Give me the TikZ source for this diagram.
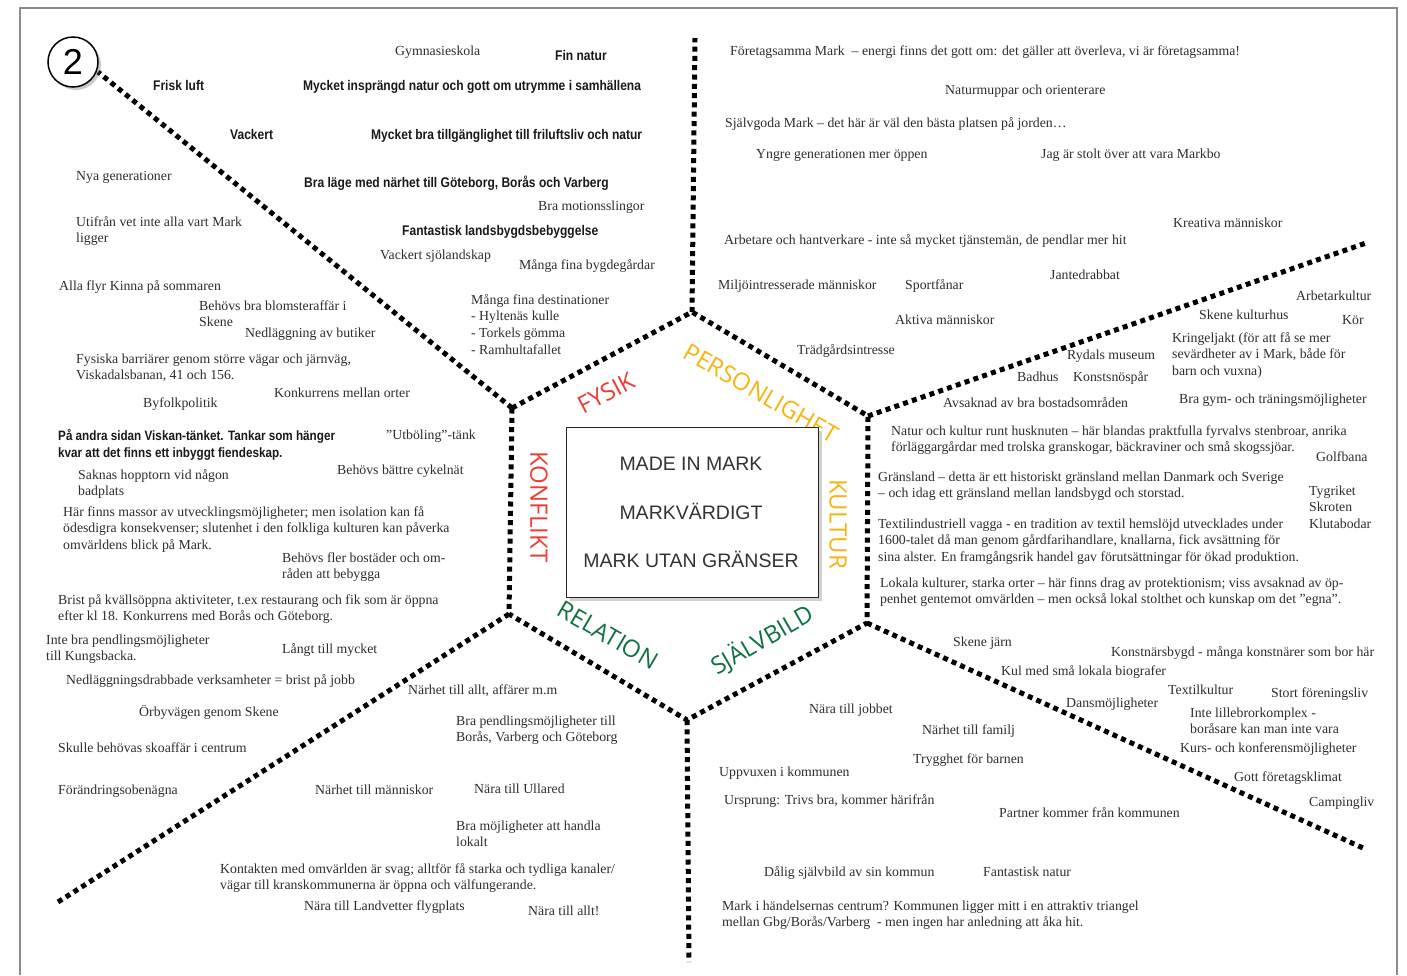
\documentclass[tikz,border=0pt]{standalone}
\usepackage{fontspec}
\setmainfont{Liberation Serif}
\newfontfamily\condbold[FakeStretch=0.86]{Liberation Sans Bold}
\newfontfamily\labelfont{Open Sans}
\newfontfamily\boxfont{Liberation Sans}
\usetikzlibrary{shadows}
\definecolor{txt}{RGB}{45,45,45}
\definecolor{boldtxt}{RGB}{25,25,25}
\definecolor{lblred}{RGB}{236,60,52}
\definecolor{lblorange}{RGB}{247,180,15}
\definecolor{lblgreen}{RGB}{14,115,64}
\definecolor{framecol}{RGB}{140,140,140}
\tikzset{
  sr/.style={anchor=base west, inner sep=0pt, align=left, text=txt, font={\fontsize{13.8}{16.8}\selectfont}},
  bc/.style={anchor=base west, inner sep=0pt, align=left, text=boldtxt, font={\condbold\fontsize{14}{17}\selectfont}},
  bcs/.style={bc, font={\condbold\fontsize{13.6}{17}\selectfont}},
  dots/.style={line width=5pt, dash pattern=on 5pt off 4.3pt, black},
  cat/.style={inner sep=0pt, font={\labelfont\fontsize{24}{24}\selectfont}},
  boxtxt/.style={inner sep=0pt, text=black!80, font={\boxfont\fontsize{19.5}{20}\selectfont}},
}
\begin{document}
\begin{tikzpicture}[x=1pt,y=-1pt]
\useasboundingbox (0,0) rectangle (1407,975);
% frame
\coordinate (fBL) at (20,975);
\coordinate (fTL) at (20,8);
\coordinate (fTR) at (1397,8);
\coordinate (fBR) at (1397,975);
\draw[framecol, line width=1.5pt] (fBL) -- (fTL) -- (fTR) -- (fBR);

% hexagon vertices
\coordinate (hT) at (692,312);
\coordinate (hUR) at (868,416);
\coordinate (hLR) at (867,623);
\coordinate (hB) at (687,720);
\coordinate (hLL) at (509,614);
\coordinate (hUL) at (512,408);
% spoke ends
\coordinate (eT) at (695,38);
\coordinate (eUL) at (98,72);
\coordinate (eUR) at (1366,243);
\coordinate (eLR) at (1363,848);
\coordinate (eLL) at (58,902);
\coordinate (eB) at (689,962);

\draw[dots] (hUL) -- (hT) -- (hUR) -- (hLR) -- (hB) -- (hLL) -- cycle;
\draw[dots] (hT) -- (eT);
\draw[dots] (hUL) -- (eUL);
\draw[dots] (hUR) -- (eUR);
\draw[dots] (hLR) -- (eLR);
\draw[dots] (hLL) -- (eLL);
\draw[dots] (hB) -- (eB);

% category labels
\node[cat, text=lblred, rotate=28] (cFysik) at (606,393) {FYSIK};
\node[cat, text=lblorange, rotate=-30] (cPers) at (761,393) {PERSONLIGHET};
\node[cat, text=lblorange, rotate=-90] (cKult) at (838,524) {KULTUR};
\node[cat, text=lblgreen, rotate=30] (cSjalv) at (762,640) {SJÄLVBILD};
\node[cat, text=lblgreen, rotate=-30] (cRel) at (608,635) {RELATION};
\node[cat, text=lblred, rotate=-90] (cKonf) at (539,507) {KONFLIKT};

% central box
\node[draw=black!85, line width=1pt, fill=white, minimum width=252pt, minimum height=170pt, inner sep=0pt,
      drop shadow={shadow xshift=4pt, shadow yshift=-4pt, opacity=0.3, fill=black!60}] (box) at (692,512) {};
\node[boxtxt] (m1) at (691,464) {MADE IN MARK};
\node[boxtxt] (m2) at (691,511) {MARKVÄRDIGT};
\node[boxtxt] (m3) at (691,559) {MARK UTAN GRÄNSER};

% circled number
\node[circle, draw=black, line width=1.5pt, minimum size=50pt, inner sep=0pt, fill=white,
      drop shadow={shadow xshift=3pt, shadow yshift=-3pt, opacity=0.35, fill=black!60},
      font={\boxfont\fontsize{36}{36}\selectfont}] (num) at (73,62) {2};

% ---------- FYSIK sector ----------
\node[sr] (a1) at (395,55) {Gymnasieskola};
\node[bc] (a2) at (555,60) {Fin natur};
\node[bc] (a3) at (153,90) {Frisk luft};
\node[bc] (a4) at (303,90) {Mycket insprängd natur och gott om utrymme i samhällena};
\node[bc] (a5) at (230,139) {Vackert};
\node[bc] (a6) at (371,139) {Mycket bra tillgänglighet till friluftsliv och natur};
\node[bc] (a7) at (304,187) {Bra läge med närhet till Göteborg, Borås och Varberg};
\node[sr] (a8) at (538,210) {Bra motionsslingor};
\node[bc] (a9) at (402,235) {Fantastisk landsbygdsbebyggelse};
\node[sr] (a10) at (380,259) {Vackert sjölandskap};
\node[sr] (a11) at (519,269) {Många fina bygdegårdar};
\node[sr] (a12) at (471,354.4) {Många fina destinationer\\- Hyltenäs kulle\\- Torkels gömma\\- Ramhultafallet};

% ---------- KONFLIKT sector ----------
\node[sr] (k1) at (76,180) {Nya generationer};
\node[sr] (k2) at (76,242.8) {Utifrån vet inte alla vart Mark\\ligger};
\node[sr] (k3) at (59,290) {Alla flyr Kinna på sommaren};
\node[sr] (k4) at (199,326.8) {Behövs bra blomsteraffär i\\Skene};
\node[sr] (k5) at (245,337) {Nedläggning av butiker};
\node[sr] (k6) at (76,379.8) {Fysiska barriärer genom större vägar och järnväg,\\Viskadalsbanan, 41 och 156.};
\node[sr] (k7) at (274,397) {Konkurrens mellan orter};
\node[sr] (k8) at (143,407) {Byfolkpolitik};
\node[bcs] (k9) at (58,457) {På andra sidan Viskan-tänket. Tankar som hänger\\kvar att det finns ett inbyggt fiendeskap.};
\node[sr] (k10) at (386,439) {"Utböling"-tänk};
\node[sr] (k11) at (337,474) {Behövs bättre cykelnät};
\node[sr] (k12) at (78,495.8) {Saknas hopptorn vid någon\\badplats};
\node[sr] (k13) at (63,549.6) {Här finns massor av utvecklingsmöjligheter; men isolation kan få\\ödesdigra konsekvenser; slutenhet i den folkliga kulturen kan påverka\\omvärldens blick på Mark.};
\node[sr] (k14) at (282,578.8) {Behövs fler bostäder och om-\\råden att bebygga};
\node[sr] (k15) at (58,620.8) {Brist på kvällsöppna aktiviteter, t.ex restaurang och fik som är öppna\\efter kl 18. Konkurrens med Borås och Göteborg.};

% ---------- RELATION sector ----------
\node[sr] (r1) at (46,660.8) {Inte bra pendlingsmöjligheter\\till Kungsbacka.};
\node[sr] (r2) at (282,653) {Långt till mycket};
\node[sr] (r3) at (66,684) {Nedläggningsdrabbade verksamheter = brist på jobb};
\node[sr] (r4) at (408,694) {Närhet till allt, affärer m.m};
\node[sr] (r5) at (139,716) {Örbyvägen genom Skene};
\node[sr] (r6) at (456,741.8) {Bra pendlingsmöjligheter till\\Borås, Varberg och Göteborg};
\node[sr] (r7) at (58,752) {Skulle behövas skoaffär i centrum};
\node[sr] (r8) at (58,794) {Förändringsobenägna};
\node[sr] (r9) at (315,794) {Närhet till människor};
\node[sr] (r10) at (474,793) {Nära till Ullared};
\node[sr] (r11) at (456,846.8) {Bra möjligheter att handla\\lokalt};
\node[sr] (r12) at (220,889.8) {Kontakten med omvärlden är svag; alltför få starka och tydliga kanaler/\\vägar till kranskommunerna är öppna och välfungerande.};
\node[sr] (r13) at (304,910) {Nära till Landvetter flygplats};
\node[sr] (r14) at (528,915) {Nära till allt!};

% ---------- PERSONLIGHET sector ----------
\node[sr] (p1) at (730,55) {Företagsamma Mark \ – energi finns det gott om: det gäller att överleva, vi är företagsamma!};
\node[sr] (p2) at (945,94) {Naturmuppar och orienterare};
\node[sr] (p3) at (725,127) {Självgoda Mark – det här är väl den bästa platsen på jorden…};
\node[sr] (p4) at (756,158) {Yngre generationen mer öppen};
\node[sr] (p5) at (1041,158) {Jag är stolt över att vara Markbo};
\node[sr] (p6) at (1173,227) {Kreativa människor};
\node[sr] (p7) at (724,244) {Arbetare och hantverkare - inte så mycket tjänstemän, de pendlar mer hit};
\node[sr] (p8) at (1050,279) {Jantedrabbat};
\node[sr] (p9) at (718,289) {Miljöintresserade människor};
\node[sr] (p10) at (905,289) {Sportfånar};
\node[sr] (p11) at (895,324) {Aktiva människor};
\node[sr] (p12) at (797,354) {Trädgårdsintresse};

% ---------- KULTUR sector ----------
\node[sr] (u1) at (1296,300) {Arbetarkultur};
\node[sr] (u2) at (1199,319) {Skene kulturhus};
\node[sr] (u3) at (1342,324) {Kör};
\node[sr] (u4) at (1172,375.6) {Kringeljakt (för att få se mer\\sevärdheter av i Mark, både för\\barn och vuxna)};
\node[sr] (u5) at (1067,359) {Rydals museum};
\node[sr] (u6) at (1017,381) {Badhus};
\node[sr] (u7) at (1073,381) {Konstsnöspår};
\node[sr] (u8) at (943,407) {Avsaknad av bra bostadsområden};
\node[sr] (u9) at (1179,403) {Bra gym- och träningsmöjligheter};
\node[sr] (u10) at (891,451.8) {Natur och kultur runt husknuten – här blandas praktfulla fyrvalvs stenbroar, anrika\\förläggargårdar med trolska granskogar, bäckraviner och små skogssjöar.};
\node[sr] (u11) at (1316,461) {Golfbana};
\node[sr] (u12) at (878,497.8) {Gränsland – detta är ett historiskt gränsland mellan Danmark och Sverige\\– och idag ett gränsland mellan landsbygd och storstad.};
\node[sr] (u13) at (1309,528.6) {Tygriket\\Skroten\\Klutabodar};
\node[sr] (u14) at (878,561.6) {Textilindustriell vagga - en tradition av textil hemslöjd utvecklades under\\1600-talet då man genom gårdfarihandlare, knallarna, fick avsättning för\\sina alster. En framgångsrik handel gav förutsättningar för ökad produktion.};
\node[sr] (u15) at (880,603.8) {Lokala kulturer, starka orter – här finns drag av protektionism; viss avsaknad av öp-\\penhet gentemot omvärlden – men också lokal stolthet och kunskap om det ”egna”.};
\node[sr] (u16) at (953,646) {Skene järn};
\node[sr] (u17) at (1111,656) {Konstnärsbygd - många konstnärer som bor här};
\node[sr] (u18) at (1001,675) {Kul med små lokala biografer};
\node[sr] (u19) at (1168,694) {Textilkultur};
\node[sr] (u20) at (1271,697) {Stort föreningsliv};
\node[sr] (u21) at (1066,707) {Dansmöjligheter};
\node[sr] (u22) at (1190,733.8) {Inte lillebrorkomplex -\\boråsare kan man inte vara};
\node[sr] (u23) at (1180,752) {Kurs- och konferensmöjligheter};
\node[sr] (u24) at (1234,781) {Gott företagsklimat};
\node[sr] (u25) at (1309,806) {Campingliv};

% ---------- SJÄLVBILD sector ----------
\node[sr] (j1) at (809,713) {Nära till jobbet};
\node[sr] (j2) at (922,734) {Närhet till familj};
\node[sr] (j3) at (913,763) {Trygghet för barnen};
\node[sr] (j4) at (719,776) {Uppvuxen i kommunen};
\node[sr] (j5) at (724,804) {Ursprung: Trivs bra, kommer härifrån};
\node[sr] (j6) at (999,817) {Partner kommer från kommunen};
\node[sr] (j7) at (764,876) {Dålig självbild av sin kommun};
\node[sr] (j8) at (983,876) {Fantastisk natur};
\node[sr] (j9) at (722,926.8) {Mark i händelsernas centrum? Kommunen ligger mitt i en attraktiv triangel\\mellan Gbg/Borås/Varberg \ - men ingen har anledning att åka hit.};
\end{tikzpicture}
\end{document}
